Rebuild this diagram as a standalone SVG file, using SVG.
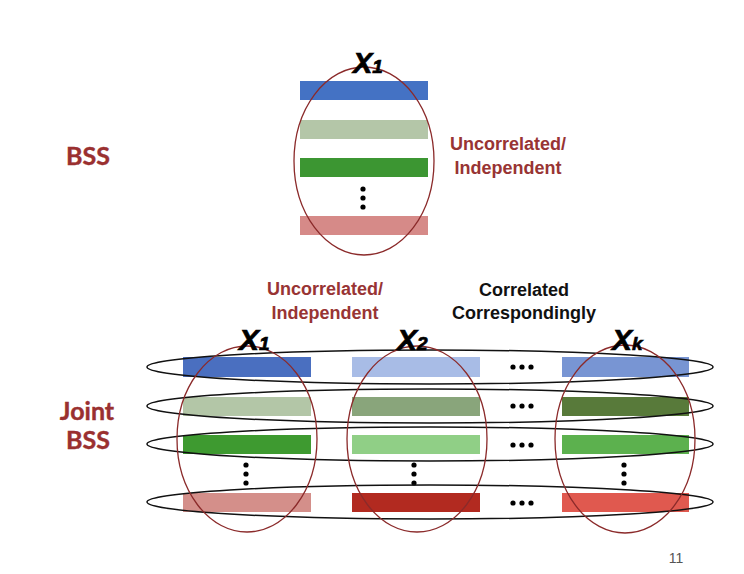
<svg xmlns="http://www.w3.org/2000/svg" width="744" height="574" viewBox="0 0 744 574">
<style>
.lbl{font-family:"Liberation Sans",Arial,sans-serif;font-weight:bold;font-size:18px;text-anchor:middle}
.red{fill:#983434}
.big{font-family:Lato,"Open Sans",sans-serif;font-weight:bold;fill:#9a3030;font-size:25px;text-anchor:middle;stroke:#9a3030;stroke-width:0.4}
.x{font-family:"Liberation Sans",Arial,sans-serif;font-weight:bold;font-style:italic;fill:#000;stroke:#000;stroke-width:0.7}
.hel{fill:none;stroke:#111;stroke-width:1.5}
.vel{fill:none;stroke:#8b2a2a;stroke-width:1.3}
</style>
<rect width="744" height="574" fill="#fff"/>
<text class="big" x="88" y="165">BSS</text>
<text class="big" x="87" y="420">Joint</text>
<text class="big" x="88" y="449">BSS</text>

<g id="bss-top">
<rect x="300" y="81" width="128" height="19" fill="#4472c4"/>
<rect x="300" y="120" width="128" height="19" fill="#b4c6a8"/>
<rect x="300" y="158" width="128" height="19" fill="#3c9632"/>
<rect x="300" y="216" width="128" height="19" fill="#d68a88"/>
<circle cx="363" cy="189" r="2.6"/><circle cx="363" cy="198" r="2.6"/><circle cx="363" cy="207" r="2.6"/>
<ellipse class="vel" cx="364" cy="161" rx="70" ry="94"/>
<text class="x" x="353" y="73" font-size="29">X<tspan font-size="19">1</tspan></text>
<text class="lbl red" x="508" y="150">Uncorrelated/</text>
<text class="lbl red" x="508" y="174">Independent</text>
</g>

<g id="bars">
<rect x="183" y="357" width="128" height="20" fill="#4a6fc0"/>
<rect x="183" y="397" width="128" height="19" fill="#b3c6a7"/>
<rect x="183" y="435" width="128" height="19" fill="#3e9a30"/>
<rect x="183" y="493" width="128" height="19" fill="#d48f8a"/>
<rect x="352" y="357" width="128" height="20" fill="#a8bce6"/>
<rect x="352" y="397" width="128" height="19" fill="#89a57b"/>
<rect x="352" y="435" width="128" height="19" fill="#90cf86"/>
<rect x="352" y="493" width="128" height="19" fill="#b22a20"/>
<rect x="562" y="357" width="127" height="20" fill="#7895d3"/>
<rect x="562" y="397" width="127" height="19" fill="#587a3a"/>
<rect x="562" y="435" width="127" height="19" fill="#5cb14e"/>
<rect x="562" y="493" width="127" height="19" fill="#e0594f"/>
</g>

<g id="dots">
<circle cx="513" cy="367" r="2.6"/><circle cx="522" cy="367" r="2.6"/><circle cx="531" cy="367" r="2.6"/>
<circle cx="513" cy="406" r="2.6"/><circle cx="522" cy="406" r="2.6"/><circle cx="531" cy="406" r="2.6"/>
<circle cx="513" cy="445" r="2.6"/><circle cx="522" cy="445" r="2.6"/><circle cx="531" cy="445" r="2.6"/>
<circle cx="513" cy="503" r="2.6"/><circle cx="522" cy="503" r="2.6"/><circle cx="531" cy="503" r="2.6"/>
<circle cx="246" cy="465" r="2.6"/><circle cx="246" cy="474" r="2.6"/><circle cx="246" cy="483" r="2.6"/>
<circle cx="414" cy="465" r="2.6"/><circle cx="414" cy="474" r="2.6"/><circle cx="414" cy="483" r="2.6"/>
<circle cx="624" cy="465" r="2.6"/><circle cx="624" cy="474" r="2.6"/><circle cx="624" cy="483" r="2.6"/>
</g>

<g id="rows">
<ellipse class="hel" cx="430" cy="367" rx="283" ry="17"/>
<ellipse class="hel" cx="430" cy="406" rx="283" ry="17"/>
<ellipse class="hel" cx="430" cy="444" rx="283" ry="17"/>
<ellipse class="hel" cx="430" cy="502" rx="283" ry="17"/>
</g>

<g id="cols">
<ellipse class="vel" cx="247" cy="439" rx="70" ry="93"/>
<ellipse class="vel" cx="417" cy="439" rx="70" ry="93"/>
<ellipse class="vel" cx="625" cy="439" rx="70" ry="94"/>
</g>

<g id="labels">
<text class="x" x="239" y="350" font-size="30">X<tspan font-size="19">1</tspan></text>
<text class="x" x="397" y="350" font-size="30">X<tspan font-size="19">2</tspan></text>
<text class="x" x="612" y="350" font-size="30">X<tspan font-size="19">k</tspan></text>
<text class="lbl red" x="325" y="295">Uncorrelated/</text>
<text class="lbl red" x="325" y="319">Independent</text>
<text class="lbl" x="524" y="296" fill="#111">Correlated</text>
<text class="lbl" x="524" y="319" fill="#111">Correspondingly</text>
<text x="676" y="563" font-family="Liberation Sans,Arial,sans-serif" font-size="14" fill="#555" text-anchor="middle">11</text>
</g>
</svg>
